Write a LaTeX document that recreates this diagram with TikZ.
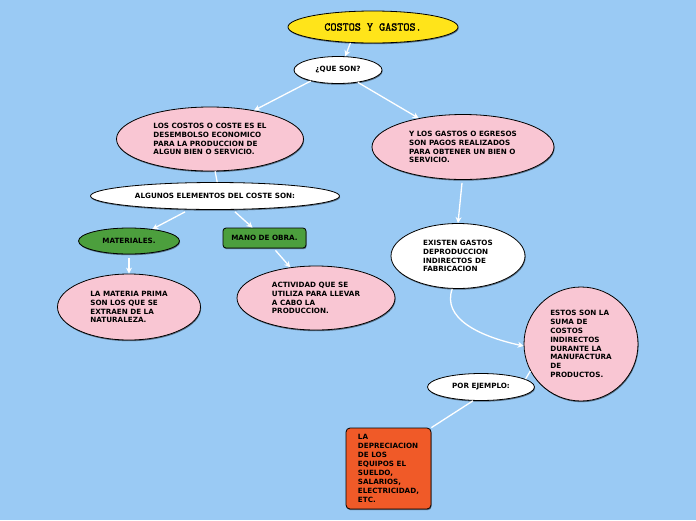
\documentclass[tikz,border=0pt]{standalone}
\usepackage{fontspec}
\setmainfont{DejaVu Sans}
\newfontfamily\ttlfont[FakeBold=1.6]{Latin Modern Mono}
\usetikzlibrary{shapes.geometric,arrows.meta,shadows,calc}
\definecolor{bgblue}{RGB}{154,202,244}
\definecolor{ttlyellow}{RGB}{255,228,26}
\definecolor{pinkfill}{RGB}{249,198,211}
\definecolor{greenfill}{RGB}{76,159,61}
\definecolor{orangefill}{RGB}{240,90,40}
\tikzset{
  base/.style={draw=black, line width=0.8pt, inner sep=0pt, align=left,
    font=\fontsize{7.2}{8.9}\selectfont\bfseries,
    drop shadow={shadow xshift=0.6pt, shadow yshift=-1.2pt, opacity=0.45, fill=black}},
  ell/.style={base, ellipse},
  box/.style={base, rectangle, rounded corners=3pt},
  conn/.style={draw=white, line width=1.3pt},
  arr/.style={conn, -{Stealth[length=6pt,width=6pt]}}
}
\begin{document}
\begin{tikzpicture}[x=1pt,y=-1pt]
\useasboundingbox (0,0) rectangle (696,520);
\fill[bgblue] (0,0) rectangle (696,520);

\node[ell, fill=ttlyellow, minimum width=170pt, minimum height=32pt,
  font=\ttlfont\fontsize{11.8}{13}\selectfont] (t) at (373,27) {COSTOS Y GASTOS.};
\node[ell, fill=white, minimum width=88pt, minimum height=27pt] (q) at (338,70) {¿QUE SON?};
\node[ell, fill=pinkfill, minimum width=187pt, minimum height=64pt] (c) at (210,139)
  {LOS COSTOS O COSTE ES EL\\DESEMBOLSO ECONOMICO\\PARA LA PRODUCCION DE\\ALGUN BIEN O SERVICIO.};
\node[ell, fill=pinkfill, minimum width=182pt, minimum height=65pt] (g) at (463,147)
  {Y LOS GASTOS O EGRESOS\\SON PAGOS REALIZADOS\\PARA OBTENER UN BIEN O\\SERVICIO.};
\node[ell, fill=white, minimum width=249pt, minimum height=27pt] (al) at (215,196)
  {ALGUNOS ELEMENTOS DEL COSTE SON:};
\node[ell, fill=greenfill, minimum width=101pt, minimum height=26pt] (m) at (129,241) {MATERIALES.};
\node[box, fill=greenfill, minimum width=83pt, minimum height=20pt] (mo) at (264.5,238) {MANO DE OBRA.};
\node[ell, fill=pinkfill, minimum width=143pt, minimum height=66pt] (mp) at (129,307)
  {LA MATERIA PRIMA\\SON LOS QUE SE\\EXTRAEN DE LA\\NATURALEZA.};
\node[ell, fill=pinkfill, minimum width=158pt, minimum height=64pt] (ac) at (316,298)
  {ACTIVIDAD QUE SE\\UTILIZA PARA LLEVAR\\A CABO LA\\PRODUCCION.};
\node[ell, fill=white, minimum width=134pt, minimum height=65pt] (ex) at (458,256)
  {EXISTEN GASTOS\\DEPRODUCCION\\INDIRECTOS DE\\FABRICACION};
\node[ell, fill=pinkfill, minimum width=114pt, minimum height=114pt] (es) at (581,344)
  {ESTOS SON LA\\SUMA DE\\COSTOS\\INDIRECTOS\\DURANTE LA\\MANUFACTURA\\DE\\PRODUCTOS.};
\node[ell, fill=white, minimum width=107pt, minimum height=27pt] (pe) at (481,387) {POR EJEMPLO:};
\node[box, fill=orangefill, rounded corners=4pt, minimum width=85pt, minimum height=81pt] (dp) at (388.5,468.5)
  {LA\\DEPRECIACION\\DE LOS\\EQUIPOS EL\\SUELDO,\\SALARIOS,\\ELECTRICIDAD,\\ETC.};

\draw[arr] (t.215) -- (q.62);
\draw[arr] (q.202) -- (c.33);
\draw[arr] (q.-32) -- (g.147);
\draw[conn] (c.-81) -- (al.81);
\draw[arr] ($(al.south)+(-30,2)$) -- (m.27);
\draw[arr] ($(al.south)+(20,2)$) -- ($(mo.north)+(-12,0)$);
\draw[arr] ($(m.south)+(0,4)$) -- (mp.north);
\draw[arr] ($(mo.south)+(11,2)$) -- (ac.130);
\draw[arr] ($(g.south)+(-1,3)$) -- (ex.north);
\draw[arr] (ex.-100) .. controls (442,318) and (478,336) .. (es.182);
\draw[conn] (es.208) -- (pe.10);
\draw[conn] (pe.240) -- (dp.north east);
\end{tikzpicture}
\end{document}
